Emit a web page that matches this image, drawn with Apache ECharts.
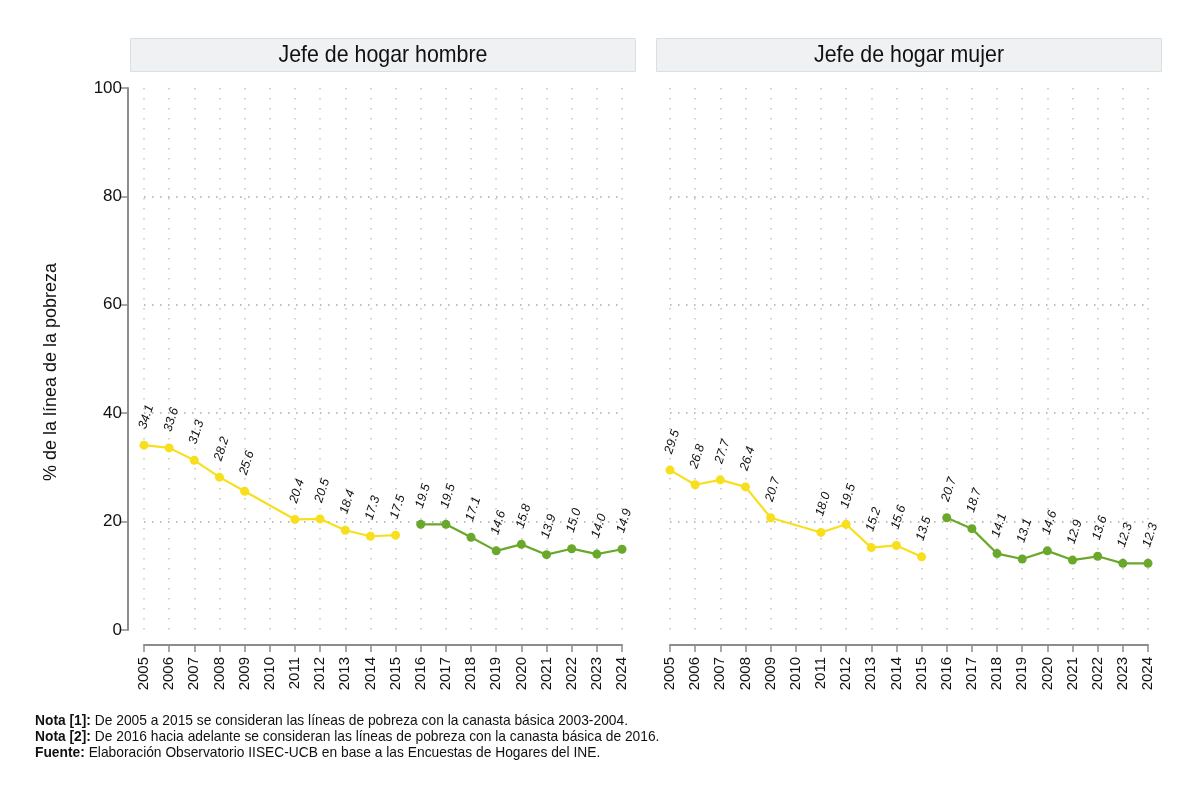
<!DOCTYPE html>
<html>
<head>
<meta charset="utf-8">
<script src="https://cdn.jsdelivr.net/npm/echarts@6/dist/echarts.min.js"></script>
<style>
  html, body { margin: 0; padding: 0; background: #fff; }
  #chart { width: 1200px; height: 801px; }
</style>
</head>
<body>
<div id="chart"></div>
<script>
// años
const years = ['2005','2006','2007','2008','2009','2010','2011','2012','2013','2014',
               '2015','2016','2017','2018','2019','2020','2021','2022','2023','2024'];
const yTicks = [0, 20, 40, 60, 80, 100];

// Jefe de hogar hombre
const hombreCanasta2003 = [34.1, 33.6, 31.3, 28.2, 25.6, null, 20.4, 20.5, 18.4, 17.3, 17.5,
                           null, null, null, null, null, null, null, null, null];
const hombreCanasta2016 = [null, null, null, null, null, null, null, null, null, null, null,
                           19.5, 19.5, 17.1, 14.6, 15.8, 13.9, 15.0, 14.0, 14.9];

// Jefe de hogar mujer
const mujerCanasta2003 = [29.5, 26.8, 27.7, 26.4, 20.7, null, 18.0, 19.5, 15.2, 15.6, 13.5,
                          null, null, null, null, null, null, null, null, null];
const mujerCanasta2016 = [null, null, null, null, null, null, null, null, null, null, null,
                          20.7, 18.7, 14.1, 13.1, 14.6, 12.9, 13.6, 12.3, 12.3];

const panels = ['Jefe de hogar hombre', 'Jefe de hogar mujer'];

const FONT = "'Liberation Sans Narrow', 'Liberation Sans', Arial, sans-serif";
const YELLOW = '#f7df1e';
const GREEN = '#6aa82c';

const chart = echarts.init(document.getElementById('chart'));

function xAxisFor(i) {
  return {
    type: 'category', gridIndex: i, data: years, boundaryGap: false, offset: 15,
    axisLine: { onZero: false, lineStyle: { color: '#8c8c8c', width: 2 } },
    axisTick: { length: 7, lineStyle: { color: '#8c8c8c', width: 1.5 } },
    axisLabel: { rotate: 90, fontSize: 15, color: '#111', fontFamily: FONT, margin: 12 },
    splitLine: { show: true, lineStyle: { color: '#c4c4c4', type: [1.5, 8.5], width: 1.5 } }
  };
}

function yAxisFor(i) {
  return {
    type: 'value', gridIndex: i, min: 0, max: 100, interval: 20, offset: 16,
    name: i === 0 ? '% de la línea de la pobreza' : '',
    nameLocation: 'middle', nameGap: 68,
    nameTextStyle: { fontSize: 18, color: '#111', fontFamily: FONT, padding: [0, 26, 0, 0] },
    axisLine: { show: i === 0, lineStyle: { color: '#8c8c8c', width: 2 } },
    axisTick: { show: i === 0, length: 7, lineStyle: { color: '#8c8c8c', width: 1.5 } },
    axisLabel: {
      show: i === 0, fontSize: 17, color: '#111', fontFamily: FONT, margin: 6,
      formatter: v => yTicks.includes(v) ? String(v) : ''
    },
    splitLine: {
      show: true, showMinLine: false, showMaxLine: false,
      lineStyle: { color: '#a8a8a8', type: [1.5, 6.5], width: 1.5 }
    }
  };
}

function lineSeries(i, data, color) {
  return {
    type: 'line', xAxisIndex: i, yAxisIndex: i, data: data,
    connectNulls: true, symbol: 'circle', symbolSize: 9,
    itemStyle: { color: color }, lineStyle: { color: color, width: 2.2 },
    label: {
      show: true, position: 'top', distance: 17, rotate: 72,
      align: 'left', verticalAlign: 'middle', offset: [-5, 0],
      fontSize: 12.5, fontStyle: 'italic', color: '#111', fontFamily: FONT,
      formatter: p => p.value == null ? '' : Number(p.value).toFixed(1)
    },
    emphasis: { disabled: true }
  };
}

function header(left, text) {
  return {
    type: 'group', left: left, top: 38,
    children: [
      { type: 'rect', shape: { x: 0, y: 0, width: 505, height: 33 },
        style: { fill: '#eff1f2', stroke: '#d6e0e5', lineWidth: 1 } },
      { type: 'text', x: 252.5, y: 17, scaleX: 0.89,
        style: { text: text, fontSize: 24, fontFamily: FONT, fill: '#111',
                 align: 'center', verticalAlign: 'middle' } }
    ]
  };
}

chart.setOption({
  animation: false,
  backgroundColor: '#fff',
  grid: [
    { left: 144, width: 478, top: 88, height: 542 },
    { left: 670, width: 478, top: 88, height: 542 }
  ],
  xAxis: [xAxisFor(0), xAxisFor(1)],
  yAxis: [yAxisFor(0), yAxisFor(1)],
  series: [
    lineSeries(0, hombreCanasta2003, YELLOW),
    lineSeries(0, hombreCanasta2016, GREEN),
    lineSeries(1, mujerCanasta2003, YELLOW),
    lineSeries(1, mujerCanasta2016, GREEN)
  ],
  graphic: [
    header(130, panels[0]),
    header(656, panels[1]),
    {
      type: 'text', left: 35, top: 713, scaleX: 0.92,
      style: {
        text: '{b|Nota [1]:} De 2005 a 2015 se consideran las líneas de pobreza con la canasta básica 2003-2004.\n' +
              '{b|Nota [2]:} De 2016 hacia adelante se consideran las líneas de pobreza con la canasta básica de 2016.\n' +
              '{b|Fuente:} Elaboración Observatorio IISEC-UCB en base a las Encuestas de Hogares del INE.',
        fontSize: 15, lineHeight: 16, fontFamily: FONT, fill: '#111',
        rich: { b: { fontWeight: 'bold', fontSize: 15, lineHeight: 16, fontFamily: FONT, fill: '#111' } }
      }
    }
  ]
});
</script>
</body>
</html>
